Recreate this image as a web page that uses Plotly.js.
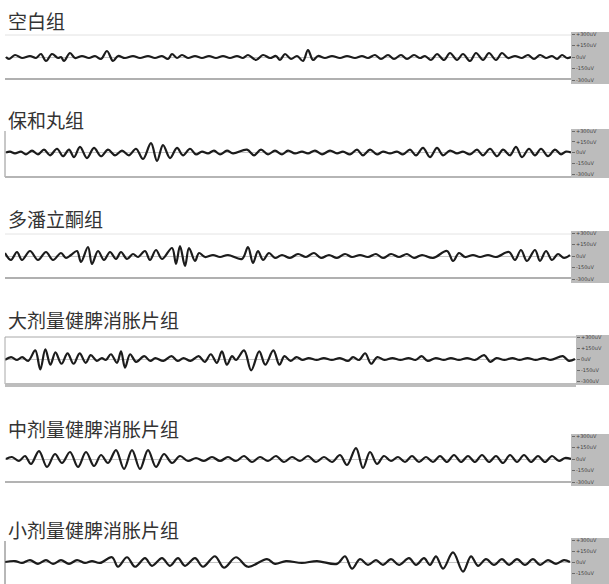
<!DOCTYPE html>
<html><head><meta charset="utf-8">
<script src="https://cdn.plot.ly/plotly-3.0.1.min.js"></script>
<style>html,body{margin:0;padding:0;background:#fff}#chart{width:609px;height:584px}</style>
</head><body><div id="chart"></div>
<script>
// Group names (panel titles)
const groupNames = ["空白组","保和丸组","多潘立酮组","大剂量健脾消胀片组","中剂量健脾消胀片组","小剂量健脾消胀片组"];
// Y tick labels on the grey strip
const tickValues = [-300,-150,0,150,300];
const tickLabels = ["-300uV","-150uV","0uV","+150uV","+300uV"];

// Each trace: [time (ms), amplitude (uV)] read at wave peaks / troughs
const blankGroup = [[1,0],[4,-26],[10,26],[17,-13],[25,13],[31,-13],[36,39],[41,-52],[47,39],[53,-13],[56,0],[59,-52],[65,52],[70,-13],[77,13],[84,-13],[90,13],[96,-26],[102,78],[108,-52],[113,13],[120,-13],[128,13],[135,-13],[143,13],[150,-13],[157,13],[163,-26],[167,39],[172,-13],[177,26],[183,-13],[190,13],[197,-13],[204,13],[211,-13],[218,13],[225,-13],[232,13],[238,-13],[243,26],[251,-39],[258,26],[265,-13],[271,13],[275,-39],[280,39],[286,-26],[292,13],[298,-52],[303,91],[308,-39],[313,13],[320,-13],[327,13],[335,-13],[342,13],[350,-13],[357,13],[363,-13],[370,26],[376,-26],[383,26],[389,-26],[396,26],[402,-26],[409,26],[415,-13],[420,13],[426,-39],[432,39],[439,-39],[445,52],[452,-39],[458,39],[465,-52],[471,52],[478,-39],[484,52],[491,-39],[497,52],[503,-13],[510,13],[517,-13],[523,26],[529,-26],[535,26],[541,-13],[547,13],[552,-26],[557,26],[562,-13],[566,0]];

const baoheGroup = [[1,0],[5,13],[10,-13],[16,13],[21,-26],[27,26],[33,-26],[39,39],[45,-39],[52,52],[58,-52],[64,39],[69,-65],[75,78],[82,-78],[89,65],[96,-52],[103,39],[110,-39],[117,26],[124,-39],[131,52],[138,-91],[146,130],[152,-117],[158,104],[165,-78],[172,65],[178,-39],[185,52],[191,-26],[197,13],[203,-13],[209,26],[215,-26],[222,26],[228,-13],[242,39],[249,-39],[256,39],[263,-26],[270,26],[277,-26],[283,26],[290,-13],[297,13],[303,-13],[310,26],[317,-26],[325,26],[332,-13],[338,13],[345,-26],[352,39],[358,-39],[365,39],[372,-26],[378,13],[385,-13],[392,13],[398,-26],[405,39],[411,-39],[418,65],[425,-65],[432,65],[438,-39],[445,26],[452,-13],[458,13],[465,-26],[472,39],[478,-39],[485,52],[492,-52],[498,39],[505,-39],[511,78],[517,-65],[524,52],[530,-39],[536,52],[543,-52],[550,39],[556,-26],[561,13],[566,0]];

const domperidoneGroup = [[0,39],[6,-52],[12,52],[17,-52],[25,65],[33,-52],[41,52],[48,-52],[56,39],[61,-26],[66,13],[72,65],[76,-78],[83,117],[87,-104],[93,65],[99,-52],[105,52],[111,-39],[116,52],[122,-39],[128,26],[133,-13],[140,65],[145,-52],[151,78],[157,-39],[167,104],[171,-104],[175,130],[180,-130],[184,104],[190,-65],[194,39],[200,-13],[208,13],[215,-13],[223,13],[237,-39],[243,117],[248,-91],[253,65],[258,-52],[264,39],[270,-26],[277,13],[285,-26],[293,26],[301,-13],[309,39],[316,-26],[324,13],[332,-26],[340,26],[347,-13],[355,13],[363,-13],[371,26],[378,-26],[386,26],[394,-13],[402,26],[409,-26],[417,13],[428,-26],[442,65],[448,-65],[454,39],[460,-13],[468,13],[475,-13],[483,13],[491,-13],[504,52],[510,-52],[516,78],[522,-65],[530,78],[535,-65],[541,65],[547,-52],[553,26],[559,-26],[565,13]];

const highDoseGroup = [[0,-13],[6,26],[12,-13],[17,26],[23,-26],[30,117],[35,-143],[40,130],[45,-78],[50,91],[56,-65],[62,78],[68,-65],[74,78],[80,-52],[85,52],[91,-26],[96,13],[100,-13],[105,65],[111,-52],[115,104],[119,-117],[124,65],[130,-39],[138,39],[144,-26],[149,13],[157,-26],[165,39],[171,-26],[177,13],[184,-26],[192,39],[198,-39],[204,65],[210,-52],[215,104],[220,-78],[225,39],[229,-13],[237,117],[244,-156],[252,104],[258,-78],[266,117],[272,-78],[277,39],[283,-26],[289,26],[295,-13],[301,13],[309,-13],[316,13],[324,-13],[332,13],[340,-26],[345,26],[351,-13],[357,78],[363,-65],[369,26],[376,-13],[384,13],[392,-13],[400,13],[407,-13],[413,39],[419,-26],[427,13],[435,-13],[442,13],[450,-13],[458,13],[466,-13],[475,52],[481,-39],[487,13],[495,-13],[503,13],[510,-13],[518,13],[526,-13],[534,13],[541,-13],[553,39],[559,-26],[565,0]];

const midDoseGroup = [[1,0],[7,26],[14,-26],[20,39],[26,-65],[34,104],[42,-104],[50,65],[57,-52],[65,91],[73,-104],[81,91],[89,-91],[96,52],[103,-52],[111,117],[119,-130],[127,117],[135,-130],[143,117],[151,-104],[159,65],[167,-52],[175,39],[183,-26],[191,13],[199,-26],[207,26],[215,-26],[223,26],[231,-26],[239,39],[247,-39],[255,26],[263,-26],[271,39],[279,-39],[287,26],[295,-26],[303,39],[311,-39],[319,26],[327,-39],[335,52],[342,-78],[351,143],[358,-117],[365,91],[372,-65],[379,39],[386,-26],[393,26],[400,-39],[407,39],[414,-39],[421,26],[428,-39],[435,39],[442,-39],[449,52],[456,-39],[463,39],[470,-39],[477,52],[484,-39],[491,39],[498,-52],[505,52],[512,-39],[519,52],[526,-39],[533,39],[540,-39],[547,39],[554,-26],[560,13],[566,0]];

const lowDoseGroup = [[0,0],[10,13],[17,-13],[25,26],[33,-26],[41,26],[48,-26],[56,26],[64,-26],[72,26],[80,-13],[87,13],[95,-13],[107,65],[113,-65],[122,65],[130,-65],[140,52],[147,-52],[157,52],[165,-52],[173,52],[180,-52],[190,52],[198,-65],[210,78],[219,-78],[231,65],[243,-65],[262,39],[270,-26],[281,13],[297,-13],[312,13],[332,-26],[340,78],[347,-91],[355,39],[363,-39],[371,26],[378,-39],[386,39],[394,-39],[404,52],[411,-39],[419,52],[425,-39],[431,78],[438,-91],[448,130],[458,-130],[466,78],[473,-52],[481,39],[489,-39],[497,39],[504,-39],[512,39],[520,-39],[528,39],[535,-39],[543,26],[551,-26],[559,26],[565,0]];

const series = [blankGroup, baoheGroup, domperidoneGroup, highDoseGroup, midDoseGroup, lowDoseGroup];

// ---- layout geometry (pixels) ----
const W = 609, H = 584;
const titleY   = [20, 120, 218, 319, 428, 529];
const panelTop = [34, 131, 233, 337, 436, 540];
const panelBot = [80, 174, 279, 381, 482, 584];
const plotLeft = 5;
const plotRight= [571, 571, 571, 576, 571, 571];
const px = x => x / W;
const py = y => 1 - y / H;

const data = [];
const layout = {
  width: W, height: H,
  margin: {l:0, r:0, t:0, b:0},
  paper_bgcolor: '#ffffff', plot_bgcolor: 'rgba(0,0,0,0)',
  showlegend: false, hovermode: false,
  shapes: [], annotations: []
};

series.forEach((s, i) => {
  const n = i + 1;
  const xa = 'xaxis' + (n === 1 ? '' : n), ya = 'yaxis' + (n === 1 ? '' : n);
  data.push({
    type: 'scatter', mode: 'lines',
    x: s.map(p => p[0]), y: s.map(p => p[1]),
    xaxis: 'x' + (n === 1 ? '' : n), yaxis: 'y' + (n === 1 ? '' : n),
    line: {color: '#1c1c1c', width: 2.2, shape: 'spline', smoothing: 1}
  });
  layout[xa] = {
    domain: [px(plotLeft), px(plotRight[i])], range: [0, 566],
    showgrid: false, zeroline: false, showticklabels: false, ticks: '', showline: false,
    anchor: 'y' + (n === 1 ? '' : n), fixedrange: true
  };
  layout[ya] = {
    domain: [py(panelBot[i]), py(panelTop[i])], range: [-300, 300],
    side: 'right', anchor: 'x' + (n === 1 ? '' : n),
    tickmode: 'array', tickvals: tickValues, ticktext: tickLabels,
    ticks: 'outside', ticklen: 3, tickcolor: '#6a6a6a', tickwidth: 1,
    tickfont: {family: 'DejaVu Sans', size: 5, color: '#3c3c3c'},
    showgrid: false, zeroline: true, zerolinecolor: '#c4c4c4', zerolinewidth: 1,
    showline: false, fixedrange: true
  };
  // grey value strip
  layout.shapes.push({type:'rect', xref:'paper', yref:'paper', layer:'below',
    x0: px(plotRight[i]), x1: 1, y0: py(Math.min(H, panelBot[i] + 4)), y1: py(panelTop[i] - 2),
    fillcolor: '#bcbcbc', line: {width: 0}});
  // title
  layout.annotations.push({text: groupNames[i], xref:'paper', yref:'paper',
    x: px(6), y: py(titleY[i]), xanchor:'left', yanchor:'middle', showarrow:false,
    font: {family: '"Noto Sans CJK SC", sans-serif', size: 19, color: '#333333'}});
});

// panel frame lines
const hline = (y, x0, x1, color, w) => layout.shapes.push({type:'line', xref:'paper', yref:'paper',
  x0: px(x0), x1: px(x1), y0: py(y), y1: py(y), line:{color, width:w}});
const vline = (x, y0, y1, color, w) => layout.shapes.push({type:'line', xref:'paper', yref:'paper',
  x0: px(x), x1: px(x), y0: py(y0), y1: py(y1), line:{color, width:w}});

hline(35, 5, 571, '#e2e2e2', 1);  hline(79, 5, 571, '#b0b0b0', 2);
vline(5, 131, 177, '#909090', 1); hline(177, 5, 571, '#b5b5b5', 2);
hline(234, 5, 571, '#e4e4e4', 1); hline(278, 5, 571, '#b0b0b0', 2);
hline(337, 5, 576, '#a8a8a8', 1); vline(5, 337, 384, '#a8a8a8', 1);
hline(385, 5, 576, '#bdbdbd', 4);
hline(482, 5, 571, '#b3b3b3', 2);
vline(5, 541, 584, '#707070', 1);

Plotly.newPlot('chart', data, layout, {staticPlot: true, displayModeBar: false});
</script></body></html>
